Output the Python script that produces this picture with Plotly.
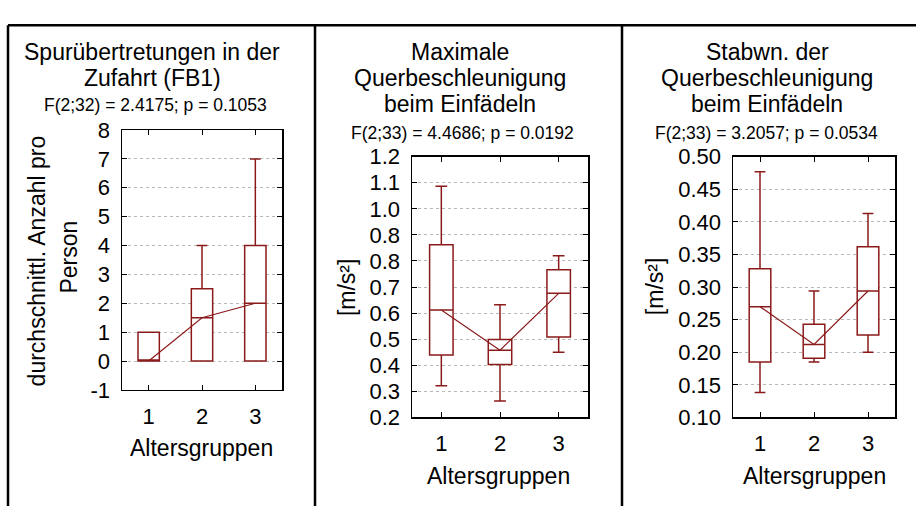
import plotly.graph_objects as go

W, H = 916, 519

groups = [1, 2, 3]
group_ticks = ["1", "2", "3"]

# Panel 1: Spurübertretungen in der Zufahrt (FB1)
fb1_low = [0, 0, 0]
fb1_q1 = [0, 0, 0]
fb1_median = [0, 1.5, 2]
fb1_q3 = [1, 2.5, 4]
fb1_high = [1, 4, 7]
fb1_ticks = [-1, 0, 1, 2, 3, 4, 5, 6, 7, 8]
fb1_ticktext = ["-1", "0", "1", "2", "3", "4", "5", "6", "7", "8"]

# Panel 2: Maximale Querbeschleunigung beim Einfädeln
maxq_low = [0.322, 0.263, 0.450]
maxq_q1 = [0.440, 0.403, 0.509]
maxq_median = [0.612, 0.458, 0.676]
maxq_q3 = [0.862, 0.499, 0.766]
maxq_high = [1.087, 0.632, 0.820]
maxq_ticks = [0.2, 0.3, 0.4, 0.5, 0.6, 0.7, 0.8, 0.9, 1.0, 1.1, 1.2]
maxq_ticktext = ["0.2", "0.3", "0.4", "0.5", "0.6", "0.7", "0.8", "0.8", "1.0", "1.1", "1.2"]

# Panel 3: Stabwn. der Querbeschleunigung beim Einfädeln
sdq_low = [0.1385, 0.185, 0.200]
sdq_q1 = [0.185, 0.191, 0.2265]
sdq_median = [0.270, 0.212, 0.294]
sdq_q3 = [0.328, 0.243, 0.362]
sdq_high = [0.477, 0.294, 0.413]
sdq_ticks = [0.10, 0.15, 0.20, 0.25, 0.30, 0.35, 0.40, 0.45, 0.50]
sdq_ticktext = ["0.10", "0.15", "0.20", "0.25", "0.30", "0.35", "0.40", "0.45", "0.50"]

RED = "#8b1a1a"
FONT = "Arial, Liberation Sans, sans-serif"

def px(x):
    return x / W

def py(y):
    return 1 - y / H

panels = [
    dict(low=fb1_low, q1=fb1_q1, med=fb1_median, q3=fb1_q3, high=fb1_high,
         ticks=fb1_ticks, ticktext=fb1_ticktext, yr=[-1, 8],
         dom_x=[122, 282], dom_y=[124, 397]),
    dict(low=maxq_low, q1=maxq_q1, med=maxq_median, q3=maxq_q3, high=maxq_high,
         ticks=maxq_ticks, ticktext=maxq_ticktext, yr=[0.2, 1.2],
         dom_x=[412, 588], dom_y=[152, 426]),
    dict(low=sdq_low, q1=sdq_q1, med=sdq_median, q3=sdq_q3, high=sdq_high,
         ticks=sdq_ticks, ticktext=sdq_ticktext, yr=[0.10, 0.50],
         dom_x=[733, 895], dom_y=[152, 426]),
]

fig = go.Figure()
layout = {}
for i, p in enumerate(panels):
    n = "" if i == 0 else str(i + 1)
    xa, ya = "x" + n, "y" + n
    fig.add_trace(go.Box(
        x=groups, q1=p["q1"], median=p["med"], q3=p["q3"],
        lowerfence=p["low"], upperfence=p["high"],
        width=0.4, whiskerwidth=0.5, boxpoints=False,
        fillcolor="white", line=dict(color=RED, width=1.5),
        xaxis=xa, yaxis=ya, showlegend=False, hoverinfo="skip"))
    fig.add_trace(go.Scatter(
        x=groups, y=p["med"], mode="lines",
        line=dict(color=RED, width=1.2),
        xaxis=xa, yaxis=ya, showlegend=False, hoverinfo="skip"))
    layout["xaxis" + n] = dict(
        domain=[px(p["dom_x"][0]), px(p["dom_x"][1])],
        range=[0.5, 3.5], tickvals=groups, ticktext=group_ticks,
        ticks="inside", ticklen=5, tickcolor="black", mirror="ticks",
        showline=True, linecolor="black", linewidth=1.5,
        showgrid=False, zeroline=False, anchor=ya,
        tickfont=dict(size=22, color="black", family=FONT),
        ticklabelstandoff=6)
    layout["yaxis" + n] = dict(
        domain=[py(p["dom_y"][1]), py(p["dom_y"][0])],
        range=p["yr"], tickvals=p["ticks"], ticktext=p["ticktext"],
        ticks="inside", ticklen=5, tickcolor="black", mirror="ticks",
        showline=True, linecolor="black", linewidth=1.5,
        showgrid=True, gridcolor="#b8b8b8", griddash="dot", gridwidth=1,
        zeroline=False, anchor=xa,
        tickfont=dict(size=22, color="black", family=FONT),
        ticklabelstandoff=6)

ann = []
def text(x, y, s, size=23, angle=0):
    ann.append(dict(x=px(x), y=py(y), xref="paper", yref="paper", text=s,
                    showarrow=False, xanchor="center", yanchor="middle",
                    textangle=angle,
                    font=dict(size=size, color="black", family=FONT)))

# Panel titles
text(152, 42, "Spurübertretungen in der")
text(152, 69, "Zufahrt (FB1)")
text(155, 98, "F(2;32) = 2.4175; p = 0.1053", size=17.5)
text(460, 42, "Maximale")
text(460, 69, "Querbeschleunigung")
text(460, 97, "beim Einfädeln")
text(462, 127, "F(2;33) = 4.4686; p = 0.0192", size=17.5)
text(767, 42, "Stabwn. der")
text(767, 69, "Querbeschleunigung")
text(767, 97, "beim Einfädeln")
text(766, 127, "F(2;33) = 3.2057; p = 0.0534", size=17.5)

# Axis titles
text(37, 262, "durchschnittl. Anzahl pro", angle=-90)
text(69, 258, "Person", angle=-90)
text(347, 289, "[m/s²]", angle=-90)
text(655, 288, "[m/s²]", angle=-90)
text(201, 458, "Altersgruppen")
text(499, 487, "Altersgruppen")
text(814, 487, "Altersgruppen")

# Frame lines
shapes = []
def line(x0, y0, x1, y1):
    shapes.append(dict(type="line", xref="paper", yref="paper",
                       x0=px(x0), y0=py(y0), x1=px(x1), y1=py(y1),
                       line=dict(color="black", width=2.5)))
line(8, 14, 916, 14)
line(8, 14, 8, 519)
line(315, 14, 315, 519)
line(622, 14, 622, 519)

fig.update_layout(width=W, height=H, margin=dict(l=0, r=0, t=0, b=0),
                  paper_bgcolor="white", plot_bgcolor="white",
                  annotations=ann, shapes=shapes, showlegend=False,
                  font=dict(family=FONT, color="black"), **layout)

fig.write_html("out.html",
               config={"displayModeBar": False, "staticPlot": True},
               post_script="document.body.style.margin='0';document.body.style.overflow='hidden';")
